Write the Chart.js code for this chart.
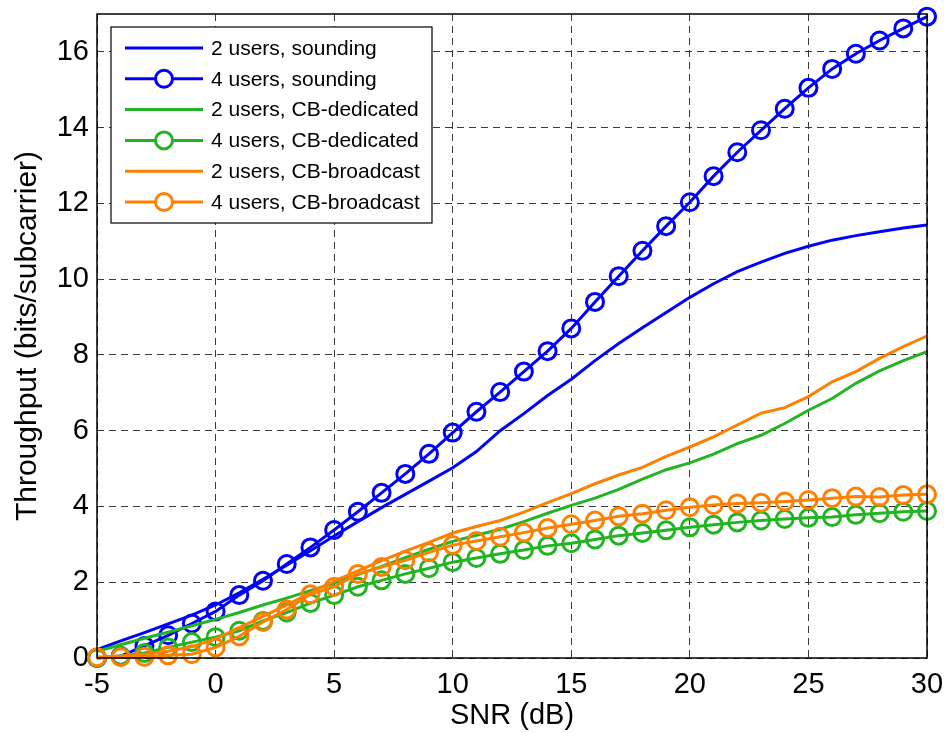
<!DOCTYPE html>
<html>
<head>
<meta charset="utf-8">
<script src="https://cdn.jsdelivr.net/npm/chart.js@4.4.0/dist/chart.umd.min.js"></script>
<style>
  html, body { margin: 0; padding: 0; background: #ffffff; }
  #wrap { width: 944px; height: 733px; position: relative; }
</style>
</head>
<body>
<div id="wrap"><canvas id="c" width="944" height="733"></canvas></div>
<script>
// ---- data ----
const snr = [-5, -4, -3, -2, -1, 0, 1, 2, 3, 4, 5, 6, 7, 8, 9, 10, 11, 12, 13, 14, 15, 16, 17, 18, 19, 20, 21, 22, 23, 24, 25, 26, 27, 28, 29, 30];

const sounding2 = [0.22, 0.45, 0.67, 0.90, 1.13, 1.40, 1.72, 2.08, 2.45, 2.83, 3.22, 3.60, 3.97, 4.32, 4.67, 5.02, 5.45, 6.00, 6.45, 6.93, 7.36, 7.85, 8.30, 8.72, 9.12, 9.52, 9.88, 10.20, 10.45, 10.68, 10.87, 11.03, 11.15, 11.25, 11.35, 11.43];
const sounding4 = [0.00, 0.05, 0.32, 0.60, 0.91, 1.23, 1.66, 2.04, 2.48, 2.92, 3.38, 3.86, 4.36, 4.86, 5.39, 5.95, 6.50, 7.02, 7.56, 8.10, 8.70, 9.40, 10.08, 10.75, 11.40, 12.03, 12.72, 13.35, 13.93, 14.50, 15.05, 15.55, 15.95, 16.30, 16.62, 16.93];
const dedicated2 = [0.18, 0.35, 0.52, 0.68, 0.85, 1.02, 1.20, 1.40, 1.58, 1.78, 1.98, 2.20, 2.42, 2.65, 2.87, 3.08, 3.24, 3.40, 3.60, 3.82, 4.03, 4.22, 4.45, 4.72, 4.97, 5.15, 5.38, 5.66, 5.88, 6.19, 6.54, 6.85, 7.25, 7.58, 7.85, 8.09];
const dedicated4 = [0.00, 0.05, 0.13, 0.28, 0.42, 0.55, 0.72, 0.98, 1.20, 1.45, 1.66, 1.88, 2.05, 2.22, 2.37, 2.53, 2.64, 2.75, 2.85, 2.96, 3.03, 3.13, 3.23, 3.30, 3.37, 3.45, 3.52, 3.58, 3.63, 3.67, 3.70, 3.72, 3.78, 3.82, 3.86, 3.88];
const broadcast2 = [0.02, 0.05, 0.10, 0.18, 0.30, 0.50, 0.80, 1.10, 1.40, 1.72, 2.03, 2.30, 2.57, 2.82, 3.05, 3.30, 3.47, 3.63, 3.85, 4.10, 4.34, 4.60, 4.83, 5.03, 5.32, 5.57, 5.84, 6.15, 6.46, 6.61, 6.90, 7.29, 7.56, 7.91, 8.22, 8.50];
const broadcast4 = [0.02, 0.02, 0.03, 0.07, 0.10, 0.28, 0.57, 0.95, 1.28, 1.68, 1.88, 2.22, 2.40, 2.58, 2.79, 2.98, 3.09, 3.20, 3.31, 3.43, 3.53, 3.63, 3.74, 3.81, 3.90, 3.98, 4.04, 4.08, 4.10, 4.13, 4.17, 4.22, 4.26, 4.25, 4.30, 4.32];

const seriesLabels = ['2 users, sounding', '4 users, sounding', '2 users, CB-dedicated', '4 users, CB-dedicated', '2 users, CB-broadcast', '4 users, CB-broadcast'];
const xTicks = [-5, 0, 5, 10, 15, 20, 25, 30];
const yTicks = [0, 2, 4, 6, 8, 10, 12, 14, 16];
const xTitle = 'SNR (dB)';
const yTitle = 'Throughput (bits/subcarrier)';

// ---- styles ----
const BLUE = '#0000ff', GREEN = '#22b422', ORANGE = '#ff8000';
const FONT = "'Liberation Sans', Arial, Helvetica, sans-serif";
const seriesValues = [sounding2, sounding4, dedicated2, dedicated4, broadcast2, broadcast4];
const seriesColors = [BLUE, BLUE, GREEN, GREEN, ORANGE, ORANGE];
const seriesMarkers = [false, true, false, true, false, true];

const datasets = seriesValues.map((vals, i) => ({
  label: seriesLabels[i],
  data: snr.map((x, k) => ({ x: x, y: vals[k] })),
  borderColor: seriesColors[i],
  backgroundColor: 'rgba(0,0,0,0)',
  borderWidth: 3,
  pointRadius: seriesMarkers[i] ? 8.5 : 0,
  pointBorderWidth: 3,
  pointBorderColor: seriesColors[i],
  pointBackgroundColor: 'rgba(0,0,0,0)',
  pointHoverRadius: seriesMarkers[i] ? 8.5 : 0,
  tension: 0,
  fill: false,
  clip: false,
  order: seriesValues.length - 1 - i
}));

const boxPlugin = {
  id: 'boxAndLegend',
  afterDatasetsDraw(chart) {
    const ctx = chart.ctx;
    const a = chart.chartArea;
    ctx.save();
    // axes box
    ctx.strokeStyle = '#000';
    ctx.lineWidth = 1.5;
    ctx.setLineDash([]);
    ctx.strokeRect(a.left, a.top, a.right - a.left, a.bottom - a.top);
    // legend
    const lx = 111, ly = 27, lw = 321, lh = 196;
    ctx.fillStyle = '#fff';
    ctx.fillRect(lx, ly, lw, lh);
    ctx.lineWidth = 1.2;
    ctx.strokeStyle = '#000';
    ctx.strokeRect(lx, ly, lw, lh);
    ctx.font = '21px ' + FONT;
    ctx.textBaseline = 'middle';
    ctx.textAlign = 'left';
    chart.data.datasets.forEach((ds, i) => {
      const y = 48 + i * 30.8;
      ctx.strokeStyle = ds.borderColor;
      ctx.lineWidth = 3;
      ctx.beginPath();
      ctx.moveTo(125, y);
      ctx.lineTo(203, y);
      ctx.stroke();
      if (ds.pointRadius > 0) {
        ctx.beginPath();
        ctx.arc(164, y, 8.5, 0, Math.PI * 2);
        ctx.fillStyle = '#fff';
        ctx.fill();
        ctx.stroke();
      }
      ctx.fillStyle = '#000';
      ctx.fillText(ds.label, 211, y + 1);
    });
    ctx.restore();
  }
};

new Chart(document.getElementById('c'), {
  type: 'line',
  data: { datasets: datasets },
  options: {
    responsive: false,
    animation: false,
    devicePixelRatio: 1,
    layout: { padding: { top: 14, right: 17, left: 0, bottom: 0 } },
    plugins: { legend: { display: false }, tooltip: { enabled: false } },
    scales: {
      x: {
        type: 'linear',
        min: xTicks[0],
        max: xTicks[xTicks.length - 1],
        afterBuildTicks: s => { s.ticks = xTicks.map(v => ({ value: v })); },
        afterFit: s => { s.height = 75; s.paddingLeft = 0; s.paddingRight = 0; },
        ticks: { color: '#000', font: { family: FONT, size: 29 }, padding: 10, maxRotation: 0, autoSkip: false },
        grid: { color: '#3a3a3a', lineWidth: 1, drawTicks: false },
        border: { display: false, dash: [7, 5] },
        title: { display: true, text: xTitle, color: '#000', font: { family: FONT, size: 29 }, padding: { top: 0, bottom: 0 } }
      },
      y: {
        type: 'linear',
        min: 0,
        max: 17,
        afterBuildTicks: s => { s.ticks = yTicks.map(v => ({ value: v })); },
        afterFit: s => { s.width = 97; s.paddingTop = 0; s.paddingBottom = 0; },
        ticks: { color: '#000', font: { family: FONT, size: 29 }, padding: 8, autoSkip: false },
        grid: { color: '#3a3a3a', lineWidth: 1, drawTicks: false },
        border: { display: false, dash: [7, 5] },
        title: { display: true, text: yTitle, color: '#000', font: { family: FONT, size: 30 }, padding: { top: 10, bottom: 0 } }
      }
    }
  },
  plugins: [boxPlugin]
});
</script>
</body>
</html>
